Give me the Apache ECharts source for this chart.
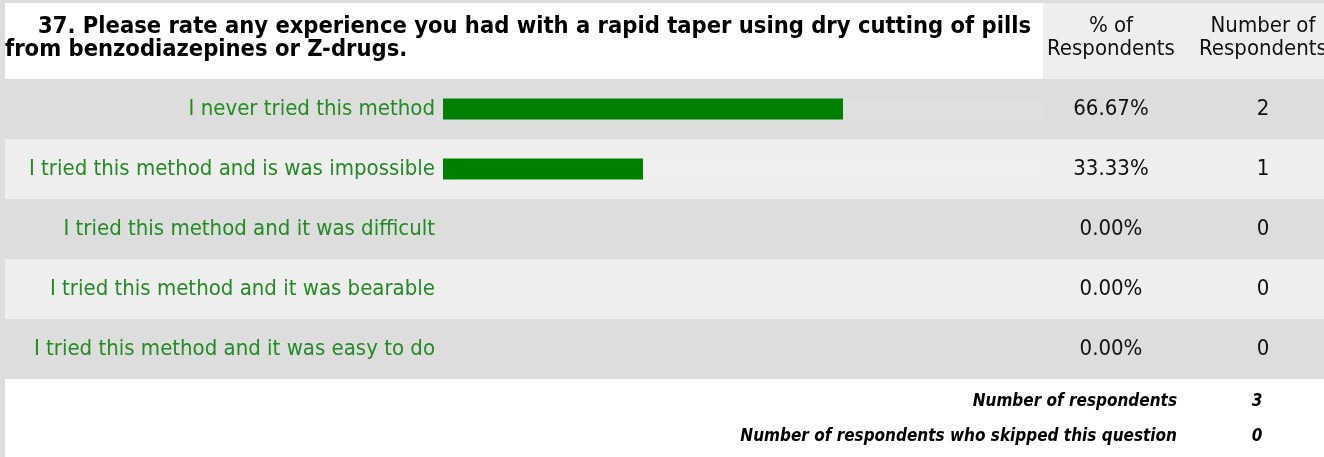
<!DOCTYPE html>
<html><head><meta charset="utf-8">
<script src="https://cdn.jsdelivr.net/npm/echarts@6/dist/echarts.min.js"></script>
<style>html,body{margin:0;padding:0;background:#dddddd;}#c{width:1324px;height:457px;}</style>
</head><body><div id="c"></div>
<script>
const titleLine1 = '37. Please rate any experience you had with a rapid taper using dry cutting of pills';
const titleLine2 = 'from benzodiazepines or Z-drugs.';
const categories = [
  'I never tried this method',
  'I tried this method and is was impossible',
  'I tried this method and it was difficult',
  'I tried this method and it was bearable',
  'I tried this method and it was easy to do'
];
const percentValues = [66.67, 33.33, 0, 0, 0];
const countValues = [2, 1, 0, 0, 0];
const headerPct = ['% of', 'Respondents'];
const headerNum = ['Number of', 'Respondents'];
const footerLabels = ['Number of respondents', 'Number of respondents who skipped this question'];
const footerValues = [3, 0];

const FONT = "'DejaVu Sans Condensed', 'DejaVu Sans', sans-serif";
const chart = echarts.init(document.getElementById('c'), null, {renderer: 'canvas'});
const trackData = percentValues.map(v => v > 0 ? 100 : null);

chart.setOption({
  backgroundColor: '#dddddd',
  animation: false,
  grid: [
    {left: 5, right: 0, top: 79, height: 300, show: false},
    {left: 443, width: 600, top: 79, height: 300, show: false}
  ],
  xAxis: [
    {gridIndex: 0, type: 'value', min: 0, max: 1, show: false},
    {gridIndex: 1, type: 'value', min: 0, max: 100, show: false}
  ],
  yAxis: [
    {gridIndex: 0, type: 'category', data: categories, inverse: true,
     axisLine: {show: false}, axisTick: {show: false}, axisLabel: {show: false},
     splitLine: {show: false},
     splitArea: {show: true, areaStyle: {color: ['#dddddd', '#eeeeee']}}},
    {gridIndex: 1, type: 'category', data: categories, inverse: true,
     axisLine: {show: false}, axisTick: {show: false}, splitLine: {show: false},
     axisLabel: {color: '#228b22', fontSize: 22, fontFamily: FONT, margin: 8}},
    {gridIndex: 1, type: 'category', data: categories, inverse: true, position: 'right', offset: 68,
     axisLine: {show: false}, axisTick: {show: false}, splitLine: {show: false},
     axisLabel: {color: '#111', fontSize: 22, fontFamily: FONT, margin: 0, align: 'center',
       formatter: (v, i) => percentValues[i].toFixed(2) + '%'}},
    {gridIndex: 1, type: 'category', data: categories, inverse: true, position: 'right', offset: 220,
     axisLine: {show: false}, axisTick: {show: false}, splitLine: {show: false},
     axisLabel: {color: '#111', fontSize: 22, fontFamily: FONT, margin: 0, align: 'center',
       formatter: (v, i) => String(countValues[i])}}
  ],
  series: [
    {type: 'bar', xAxisIndex: 1, yAxisIndex: 1, data: trackData, barWidth: 21, barGap: '-100%',
     itemStyle: {color: 'rgba(255,255,255,0.08)'}, silent: true, z: 1},
    {type: 'bar', xAxisIndex: 1, yAxisIndex: 1, data: percentValues, barWidth: 21,
     itemStyle: {color: '#008000'}, z: 2}
  ],
  graphic: [
    {type: 'rect', shape: {x: 5, y: 3, width: 1038, height: 76}, style: {fill: '#ffffff'}, z: -1},
    {type: 'rect', shape: {x: 1043, y: 3, width: 281, height: 76}, style: {fill: '#eeeeee'}, z: -1},
    {type: 'rect', shape: {x: 5, y: 379, width: 1319, height: 78}, style: {fill: '#ffffff'}, z: -1},
    {type: 'text', x: 38, y: 27, style: {text: titleLine1, font: 'bold 23.5px ' + FONT, fill: '#000', textVerticalAlign: 'middle'}},
    {type: 'text', x: 5, y: 50, style: {text: titleLine2, font: 'bold 23.5px ' + FONT, fill: '#000', textVerticalAlign: 'middle'}},
    {type: 'text', x: 1111, y: 26, style: {text: headerPct[0], font: '22px ' + FONT, fill: '#111', textAlign: 'center', textVerticalAlign: 'middle'}},
    {type: 'text', x: 1111, y: 49, style: {text: headerPct[1], font: '22px ' + FONT, fill: '#111', textAlign: 'center', textVerticalAlign: 'middle'}},
    {type: 'text', x: 1263, y: 26, style: {text: headerNum[0], font: '22px ' + FONT, fill: '#111', textAlign: 'center', textVerticalAlign: 'middle'}},
    {type: 'text', x: 1263, y: 49, style: {text: headerNum[1], font: '22px ' + FONT, fill: '#111', textAlign: 'center', textVerticalAlign: 'middle'}},
    {type: 'text', x: 1177, y: 402, style: {text: footerLabels[0], font: 'italic bold 17px ' + FONT, fill: '#000', textAlign: 'right', textVerticalAlign: 'middle'}},
    {type: 'text', x: 1257, y: 402, style: {text: String(footerValues[0]), font: 'italic bold 17px ' + FONT, fill: '#000', textAlign: 'center', textVerticalAlign: 'middle'}},
    {type: 'text', x: 1177, y: 437, style: {text: footerLabels[1], font: 'italic bold 17px ' + FONT, fill: '#000', textAlign: 'right', textVerticalAlign: 'middle'}},
    {type: 'text', x: 1257, y: 437, style: {text: String(footerValues[1]), font: 'italic bold 17px ' + FONT, fill: '#000', textAlign: 'center', textVerticalAlign: 'middle'}}
  ]
});
</script></body></html>
